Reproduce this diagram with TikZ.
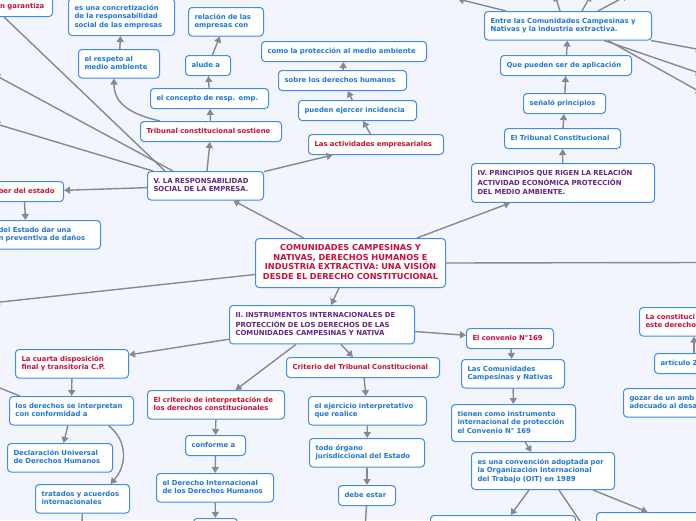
\documentclass[tikz,border=0pt]{standalone}
\usepackage{fontspec}
\setmainfont{DejaVu Sans}
\usetikzlibrary{arrows.meta}

\definecolor{mapbg}{RGB}{243,245,254}
\definecolor{boxblue}{RGB}{64,140,232}
\definecolor{txtblue}{RGB}{30,120,215}
\definecolor{txtred}{RGB}{200,16,56}
\definecolor{txtpurple}{RGB}{102,36,134}
\definecolor{linegray}{RGB}{136,136,142}

\newcommand{\mapfont}{\fontsize{6.9}{8.5}\selectfont\bfseries}
\newcommand{\rootfont}{\fontsize{8.2}{9.8}\selectfont\bfseries}

\tikzset{
  box/.style={draw=boxblue, line width=1pt, rounded corners=3.5pt, fill=white,
    inner xsep=6pt, inner ysep=5.75pt, align=left, anchor=north west, font=\mapfont,
    execute at begin node=\strut, execute at end node=\strut},
  bluebox/.style={box, text=txtblue},
  redbox/.style={box, text=txtred},
  purplebox/.style={box, text=txtpurple},
  conn/.style={draw=linegray, line width=1.4pt, -{Triangle[length=6pt,width=7pt]}},
  link/.style={draw=linegray, line width=1.4pt}
}

\begin{document}
\begin{tikzpicture}[x=1pt, y=-1pt]
    \useasboundingbox (0,0) rectangle (696,520);
    \fill[mapbg] (0,0) rectangle (696,520);
    \clip (0,0) rectangle (696,520);

    \node[redbox, anchor=north east, text width=51pt] (garant) at (53,-4) {ón garantiza};
    \node[bluebox, text width=94pt] (concret) at (68,-2) {es una concretización\\de la responsabilidad\\social de las empresas};
    \node[bluebox, text width=63pt] (relac) at (188,7) {relación de las\\empresas con};
    \node[bluebox, text width=69pt] (respeto) at (78,49) {el respeto al\\medio ambiente};
    \node[bluebox, text width=33pt] (alude) at (185,55) {alude a};
    \node[bluebox, text width=106pt] (concepto) at (150,88) {el concepto de resp. emp.};
    \node[redbox, text width=129pt] (tribsost) at (140,121) {Tribunal constitucional sostiene};
    \node[bluebox, text width=153pt] (comoprot) at (261,41) {como la protección al medio ambiente};
    \node[bluebox, text width=116pt] (sobre) at (278,70) {sobre los derechos humanos};
    \node[bluebox, text width=106pt] (pueden) at (298,100) {pueden ejercer incidencia};
    \node[redbox, text width=123pt] (activ) at (308,134) {Las actividades empresariales};
    \node[purplebox, text width=104pt] (resp) at (147,171) {V. LA RESPONSABILIDAD\\SOCIAL DE LA EMPRESA.};
    \node[redbox, anchor=north east, text width=59pt] (deber) at (64,181) {ber del estado};
    \node[bluebox, anchor=north east, text width=96pt] (preventiva) at (101,220) {del Estado dar una\\n preventiva de daños};

    \node[redbox, font=\rootfont, align=center, inner xsep=6pt, inner ysep=4.9pt, text width=178pt] (root) at (255,238)
        {COMUNIDADES CAMPESINAS Y\\NATIVAS, DERECHOS HUMANOS E\\INDUSTRIA EXTRACTIVA: UNA VISIÓN\\DESDE EL DERECHO CONSTITUCIONAL};

    \node[purplebox, text width=171pt] (iv) at (471,163) {IV. PRINCIPIOS QUE RIGEN LA RELACIÓN\\ACTIVIDAD ECONÓMICA PROTECCIÓN\\DEL MEDIO AMBIENTE.};
    \node[bluebox, text width=104pt] (tribconst) at (504,128) {El Tribunal Constitucional};
    \node[bluebox, text width=70pt] (senalo) at (523,93) {señaló principios};
    \node[bluebox, text width=119pt] (quepueden) at (500,55) {Que pueden ser de aplicación};
    \node[bluebox, text width=155pt] (entre) at (484,11) {Entre las Comunidades Campesinas y\\Nativas y la industria extractiva.};

    \node[purplebox, text width=173pt] (ii) at (229,305) {II. INSTRUMENTOS INTERNACIONALES DE\\PROTECCIÓN DE LOS DERECHOS DE LAS\\COMUNIDADES CAMPESINAS Y NATIVA};
    \node[redbox, text width=101pt] (cuarta) at (15,349) {La cuarta disposición\\final y transitoria C.P.};
    \node[bluebox, text width=112pt] (interpretan) at (9,396) {los derechos se interpretan\\con conformidad a};
    \node[bluebox, text width=93pt] (declar) at (7,443) {Declaración Universal\\de Derechos Humanos};
    \node[bluebox, text width=82pt] (tratados) at (35,484) {tratados y acuerdos\\internacionales};
    \node[redbox, text width=125pt] (criterioint) at (147,390) {El criterio de interpretación de\\los derechos constitucionales};
    \node[bluebox, text width=48pt] (conforme) at (185,435) {conforme a};
    \node[bluebox, text width=105pt] (derint) at (156,473) {el Derecho Internacional\\de los Derechos Humanos};
    \node[bluebox, text width=32pt] (bot1) at (193,518) {};
    \node[redbox, text width=141pt] (crittc) at (286,357) {Criterio del Tribunal Constitucional};
    \node[bluebox, text width=106pt] (ejercicio) at (308,396) {el ejercicio interpretativo\\que realice};
    \node[bluebox, text width=103pt] (organo) at (309,438) {todo órgano\\jurisdiccional del Estado};
    \node[bluebox, text width=45pt] (debe) at (338,485) {debe estar};
    \node[redbox, text width=75pt] (convenio) at (466,328) {El convenio N°169};
    \node[bluebox, text width=91pt] (lascom) at (461,359) {Las Comunidades\\Campesinas y Nativas};
    \node[bluebox, text width=112pt] (tienen) at (451,404) {tienen como instrumento\\internacional de protección\\el Convenio N° 169};
    \node[bluebox, text width=131pt] (esconv) at (471,452) {es una convención adoptada por\\la Organización Internacional\\del Trabajo (OIT) en 1989};
    \node[bluebox, text width=133pt] (bot2) at (430,515) {};
    \node[bluebox, text width=98pt] (bot3) at (596,512) {};

    \node[redbox, text width=90pt] (laconst) at (639,307) {La constituci\\este derecho};
    \node[bluebox, text width=80pt] (articulo) at (654,353) {artículo 2};
    \node[bluebox, text width=100pt] (gozar) at (623,388) {gozar de un amb\\adecuado al desa};

    \coordinate (offA) at (458,-1);
    \coordinate (offB) at (555,-5);
    \coordinate (offC) at (591,-5);
    \coordinate (offD) at (628,-5);
    \coordinate (offE) at (702,50);
    \coordinate (offF) at (702,74);
    \coordinate (offG) at (702,93);
    \coordinate (offR) at (702,262.5);
    \coordinate (offL) at (-6,302.7);
    \coordinate (offU1) at (-6,74.5);
    \coordinate (offU2) at (-6,123.3);
    \coordinate (offI) at (-6,385.6);
    \coordinate (offT) at (82,530);
    \coordinate (offS) at (365,532);
    \coordinate (offM) at (586,530);

    \draw[conn] (root) -- (resp);
    \draw[conn] (root) -- (iv);
    \draw[conn] (root) -- (ii);
    \draw[conn] (root.east) -- (offR);
    \draw[conn] ([yshift=-11.5pt]root.west) -- (offL);

    \draw[conn] (resp) -- (tribsost);
    \draw[conn] (resp) -- (activ);
    \draw[conn] (resp) -- (deber);
    \draw[link] ([xshift=18pt]resp.north west) -- ([xshift=15pt]garant.south west);
    \draw[conn] ([xshift=26pt]resp.north west) -- (offU1);
    \draw[conn] ([xshift=6pt]resp.north west) -- (offU2);
    \draw[conn] ([xshift=-3.5pt]deber.south) -- ([xshift=-21pt]preventiva.north);
    \draw[conn] (tribsost) -- (concepto);
    \draw[conn] (concepto) -- (alude);
    \draw[conn] (alude) -- (relac);
    \draw[conn] ([xshift=20pt]tribsost.north west) .. controls +(-35,-8) and +(0,22) .. ([xshift=-5pt]respeto.south);
    \draw[conn] (respeto) -- (concret);
    \draw[conn] (activ) -- (pueden);
    \draw[conn] (pueden) -- (sobre);
    \draw[conn] (sobre) -- (comoprot);

    \draw[conn] (iv) -- (tribconst);
    \draw[conn] (tribconst) -- (senalo);
    \draw[conn] (senalo) -- (quepueden);
    \draw[conn] (quepueden) -- (entre);
    \draw[conn] ([xshift=22pt]entre.north west) -- (offA);
    \draw[conn] ([xshift=-8pt]entre.north) -- (offB);
    \draw[conn] ([xshift=14pt]entre.north) -- (offC);
    \draw[conn] ([xshift=30pt]entre.north) -- (offD);
    \draw[conn] ([xshift=-1pt]entre.south east) -- (offE);
    \draw[conn] ([xshift=-48pt]entre.south east) -- (offF);
    \draw[conn] ([xshift=-44pt]entre.south east) -- (offG);

    \draw[conn] (ii) -- (cuarta);
    \draw[conn] (ii) -- (criterioint);
    \draw[conn] (ii) -- (crittc);
    \draw[conn] (ii) -- (convenio);
    \draw[conn] (cuarta) -- (interpretan);
    \draw[link] (offI) -- ([xshift=11pt]interpretan.north west);
    \draw[conn] (interpretan) -- (declar);
    \draw[conn] ([xshift=37pt]interpretan.south) .. controls +(20,16) and +(16,-18) .. ([xshift=28pt]tratados.north);
    \draw[conn] (tratados) -- (offT);
    \draw[conn] (criterioint) -- (conforme);
    \draw[conn] (conforme) -- (derint);
    \draw[conn] (derint) -- (bot1);
    \draw[conn] (crittc) -- (ejercicio);
    \draw[conn] (ejercicio) -- (organo);
    \draw[conn] (organo) -- (debe);
    \draw[conn] (debe) -- (offS);
    \draw[conn] (convenio) -- (lascom);
    \draw[conn] (lascom) -- (tienen);
    \draw[conn] (tienen) -- (esconv);
    \draw[conn] (esconv) -- (bot2);
    \draw[link] ([xshift=16pt]esconv.south) -- (offM);
    \draw[conn] ([xshift=50pt]esconv.south) -- ([xshift=-4pt]bot3.north);
    \draw[conn] ([xshift=40pt]articulo.north west) -- ([xshift=55pt]laconst.south west);
\end{tikzpicture}
\end{document}
